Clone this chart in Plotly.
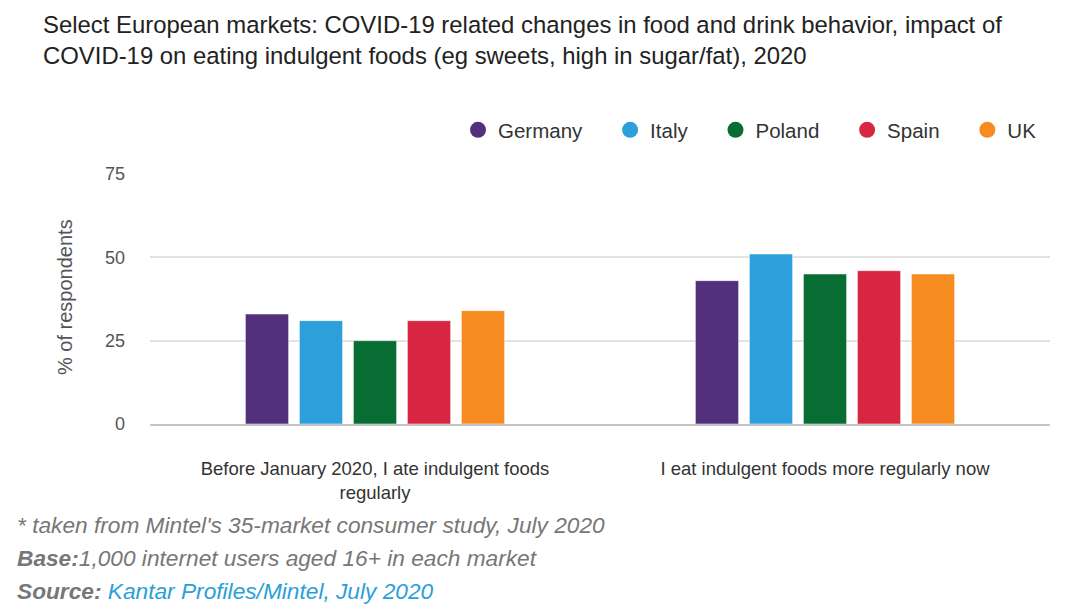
import plotly.graph_objects as go

categories = ["Before January 2020, I ate indulgent foods<br>regularly",
              "I eat indulgent foods more regularly now"]
countries = ["Germany", "Italy", "Poland", "Spain", "UK"]
values = {
    "Germany": [33, 43],
    "Italy": [31, 51],
    "Poland": [25, 45],
    "Spain": [31, 46],
    "UK": [34, 45],
}
colors = {
    "Germany": "#52307c",
    "Italy": "#2d9fdb",
    "Poland": "#076d33",
    "Spain": "#d82541",
    "UK": "#f68b1f",
}
y_ticks = [0, 25, 50, 75]

# page body margin offset
O = 8
W, H = 1070 - O, 614 - O
# plot area in screen pixels: x 150..1050, y 174..424
PL, PR, PT, PB = 150, 1050, 174, 424
L = PL - O
T = PT - O
PW, PH = PR - PL, PB - PT
R = W - L - PW
B = H - T - PH

def px(x):
    return (x - PL) / PW

def py(y):
    return (PB - y) / PH

fig = go.Figure()
for c in countries:
    fig.add_trace(go.Bar(
        x=categories, y=values[c], name=c, showlegend=False,
        marker=dict(color=colors[c], line=dict(width=1, color="rgba(255,255,255,0.5)")),
    ))
for c in countries:
    fig.add_trace(go.Scatter(
        x=[None], y=[None], mode="markers", name=c + "\u00a0\u00a0\u00a0\u00a0",
        marker=dict(symbol="circle", size=22, color=colors[c]),
    ))

font_family = "Liberation Sans, Arial, sans-serif"
title_font = dict(size=23.9, color="#222", family=font_family)
note_font = dict(size=22.7, color="#777", family=font_family)

fig.update_layout(
    width=W, height=H,
    margin=dict(l=L, r=R, t=T, b=B, autoexpand=False),
    plot_bgcolor="white", paper_bgcolor="white",
    font=dict(family=font_family, color="#333"),
    barmode="group", bargap=0.40, bargroupgap=0.20,
    legend=dict(
        orientation="h", x=px(1064), xanchor="right", y=py(130), yanchor="middle",
        font=dict(size=20.5, color="#333"), itemsizing="trace",
        traceorder="normal",
    ),
    xaxis=dict(
        showline=True, linecolor="#c4c4c4", linewidth=2,
        tickfont=dict(size=18.5, color="#333"), ticklabelstandoff=27,
        showgrid=False,
    ),
    yaxis=dict(
        range=[0, 75], tickvals=y_ticks, showgrid=True, gridcolor="#e3e3e3",
        gridwidth=1.5, zeroline=False,
        tickfont=dict(size=18, color="#555"), ticklabelstandoff=24,
    ),
    annotations=[
        dict(text="Select European markets: COVID-19 related changes in food and drink behavior, impact of",
             x=px(41), y=py(25), xref="paper", yref="paper", xanchor="left", yanchor="middle",
             showarrow=False, font=title_font),
        dict(text="COVID-19 on eating indulgent foods (eg sweets, high in sugar/fat), 2020",
             x=px(41), y=py(55), xref="paper", yref="paper", xanchor="left", yanchor="middle",
             showarrow=False, font=title_font),
        dict(text="% of respondents", textangle=-90, x=px(65), y=py(297),
             xref="paper", yref="paper", xanchor="center", yanchor="middle", showarrow=False,
             font=dict(size=20, color="#555")),
        dict(text="<i>* taken from Mintel's 35-market consumer study, July 2020</i>",
             x=px(15), y=py(525), xref="paper", yref="paper", xanchor="left", yanchor="middle",
             showarrow=False, font=note_font),
        dict(text="<b><i>Base:</i></b><i>1,000 internet users aged 16+ in each market</i>",
             x=px(15), y=py(558), xref="paper", yref="paper", xanchor="left", yanchor="middle",
             showarrow=False, font=note_font),
        dict(text="<b><i>Source:</i></b> <i><span style='color:#2a9fd9'>Kantar Profiles/Mintel, July 2020</span></i>",
             x=px(15), y=py(591), xref="paper", yref="paper", xanchor="left", yanchor="middle",
             showarrow=False, font=note_font),
    ],
)

fig.write_html("out.html")
